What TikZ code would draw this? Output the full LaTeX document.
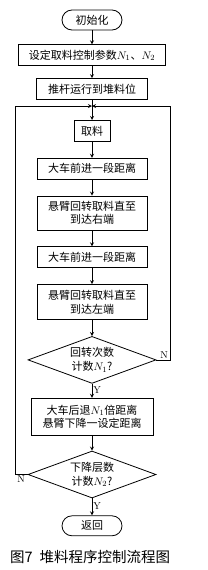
\documentclass[tikz,border=0pt]{standalone}
\usepackage{fontspec}
\newfontfamily\cjk{Noto Sans CJK SC}
\usepackage{tikz}
\usetikzlibrary{arrows,positioning,shapes.geometric,calc}
\tikzset{
  terminal/.style={
    rectangle, rounded corners=10pt, draw=black, fill=white,
    minimum width=60pt, minimum height=20pt, inner sep=1pt,
    font=\cjk\fontsize{11}{13}\selectfont, align=center, line width=0.8pt
  },
  procbox/.style={
    rectangle, draw=black, fill=white,
    minimum width=110pt, minimum height=21pt, inner sep=1pt,
    font=\cjk\fontsize{11}{13.5}\selectfont, align=center, line width=0.8pt
  },
  decision/.style={
    diamond, draw=black, fill=white, aspect=2.7,
    minimum width=128pt, minimum height=47pt, inner sep=0pt,
    font=\cjk\fontsize{11}{14}\selectfont, align=center, line width=0.8pt
  },
  flow/.style={->, >=stealth, line width=0.8pt, color=black},
  yn/.style={font=\fontsize{10}{10}\selectfont, inner sep=1pt},
}
\begin{document}
\begin{tikzpicture}
  \useasboundingbox (0,0) rectangle (208pt,-570pt);

  % Start and setup
  \node[terminal] (start) at (92pt,-20pt) {初始化};
  \node[procbox, below=14pt of start, minimum width=147pt] (param)
        {设定取料控制参数$N_1$、$N_2$};
  \node[procbox, below=12pt of param, minimum width=111pt] (push) {推杆运行到堆料位};

  % Main loop body
  \node[procbox, below=20pt of push, minimum width=36pt] (take) {取料};
  \node[procbox, below=16pt of take] (fwda) {大车前进一段距离};
  \node[procbox, below=16pt of fwda, minimum height=34pt] (right)
        {悬臂回转取料直至\\到达右端};
  \node[procbox, below=16pt of right] (fwdb) {大车前进一段距离};
  \node[procbox, below=16pt of fwdb, minimum height=35pt] (left)
        {悬臂回转取料直至\\到达左端};
  \node[decision, below=16pt of left] (turns) {回转次数\\计数$N_1$?};
  \node[procbox, below=14pt of turns, minimum width=122pt, minimum height=37pt] (back)
        {大车后退$N_1$倍距离\\悬臂下降一设定距离};
  \node[decision, below=15pt of back] (layers) {下降层数\\计数$N_2$?};
  \node[terminal, below=17pt of layers] (stop) {返回};

  % Caption
  \node[font=\cjk\fontsize{14.5}{15}\selectfont, anchor=west, inner sep=0pt] (cap)
        at (10pt,-557pt) {图7\hspace{7pt}堆料程序控制流程图};

  \coordinate (merge) at ($(push.south)!0.3!(take.north)$);

  % Arrows
  \draw[flow] (start) -- (param);
  \draw[flow] (param) -- (push);
  \draw[flow] (push) -- (take);
  \draw[flow] (take) -- (fwda);
  \draw[flow] (fwda) -- (right);
  \draw[flow] (right) -- (fwdb);
  \draw[flow] (fwdb) -- (left);
  \draw[flow] (left) -- (turns);
  \draw[flow] (turns) -- node[yn, right, pos=0.45]{Y} (back);
  \draw[flow] (back) -- (layers);
  \draw[flow] (layers) -- node[yn, right, pos=0.45]{Y} (stop);

  % Loop returns
  \draw[flow] (turns.east) -- node[yn, above, pos=0.55]{N} ++(14pt,0)
        |- (merge);
  \draw[flow] (layers.west) -- node[yn, below, pos=0.55]{N} ++(-12pt,0)
        |- (merge);

\end{tikzpicture}
\end{document}
